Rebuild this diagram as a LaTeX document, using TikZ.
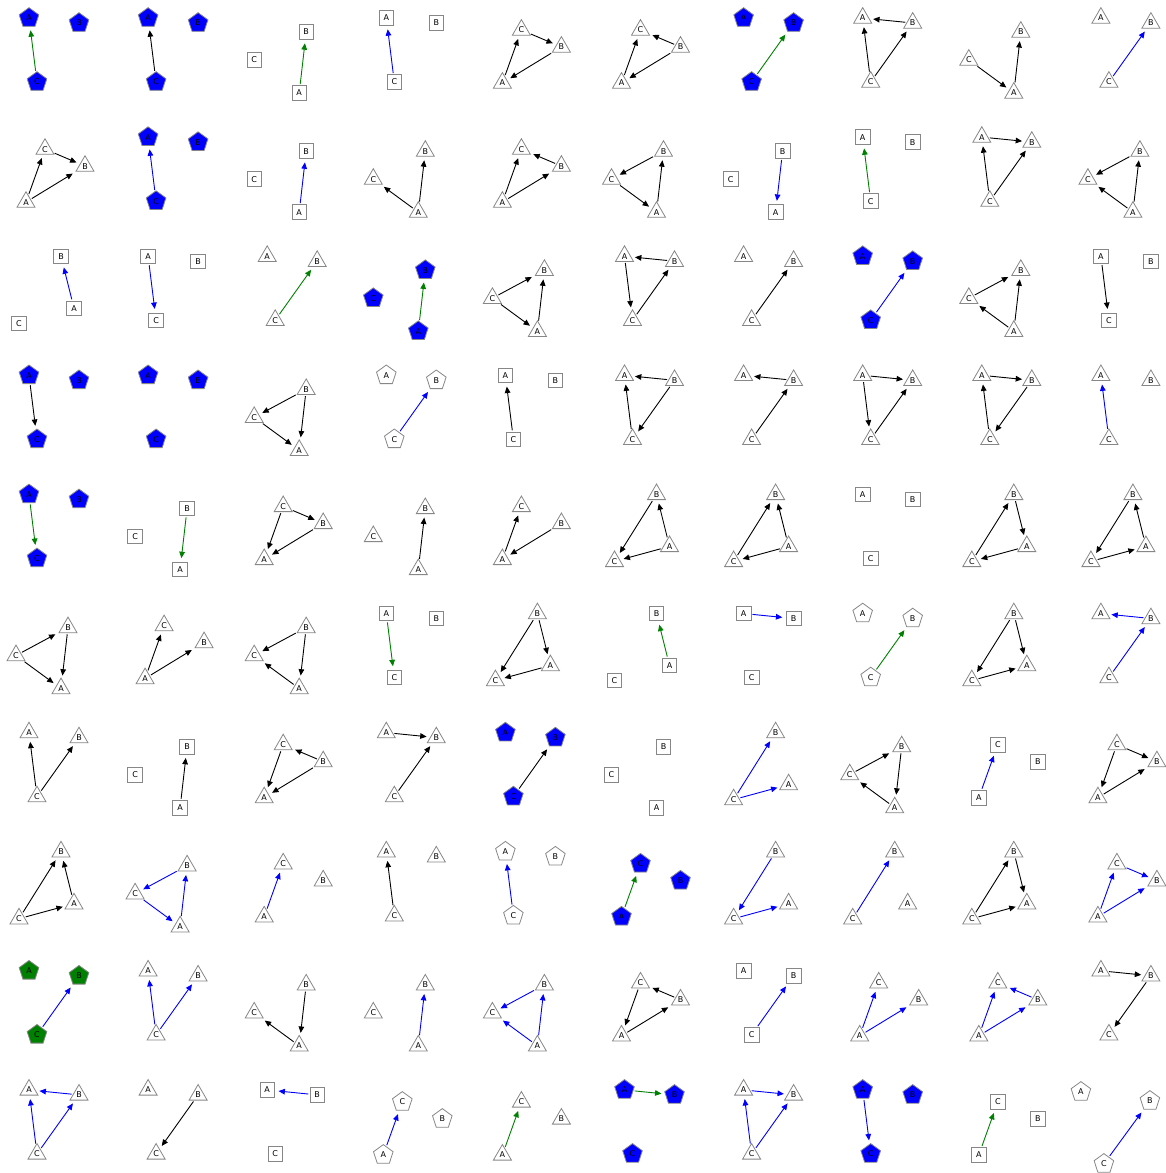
\documentclass[tikz,border=0pt]{standalone}
\usepackage{fontspec}
\setmainfont{DejaVu Sans}
\usepackage{xcolor}
\usetikzlibrary{arrows.meta, shapes.geometric}

\definecolor{edgegreen}{RGB}{0,128,0}
\definecolor{edgeblue}{RGB}{0,0,255}
\definecolor{nodegray}{RGB}{135,135,135}

\tikzset{
  lbl/.style={font=\fontsize{4}{4}\selectfont, inner sep=0pt, line width=0.4pt, draw=nodegray},
  tri/.style={lbl, regular polygon, regular polygon sides=3, fill=white, minimum size=10.4pt},
  box/.style={lbl, rectangle, fill=white, minimum size=7.3pt},
  pent/.style={lbl, regular polygon, regular polygon sides=5, fill=white, minimum size=10.3pt},
  pentblue/.style={pent, fill=edgeblue},
  pentgreen/.style={pent, fill=edgegreen},
  edge/.style={line width=0.45pt, -{Triangle[length=3.2pt,width=2.8pt]}, shorten >=1.8pt, shorten <=0.6pt},
}

% slot positions inside one panel, pixels from the panel corner
\newcommand{\layrow}{%
  \coordinate (s1) at (29,18);
  \coordinate (s2) at (79,23);
  \coordinate (s3) at (37,82);}
\newcommand{\layleft}{%
  \coordinate (s1) at (68,32);
  \coordinate (s2) at (16,60);
  \coordinate (s3) at (61,93);}
\newcommand{\laytilt}{%
  \coordinate (s1) at (45,30);
  \coordinate (s2) at (85,47);
  \coordinate (s3) at (26,83);}
\newcommand{\laypeak}{%
  \coordinate (s1) at (61,18);
  \coordinate (s2) at (74,70);
  \coordinate (s3) at (19,85);}
\newcommand{\laylast}{%
  \coordinate (s1) at (9,20);
  \coordinate (s2) at (78,29);
  \coordinate (s3) at (32,92);}

% one panel: column, row, node style, layout, labels at s1/s2/s3, edges
\newcommand{\panel}[8]{%
  \begin{scope}[shift={(#1*119.1,#2*119.1)}]
    \csname lay#4\endcsname
    \node[#3] (#5#1#2) at (s1) {#5};
    \node[#3] (#6#1#2) at (s2) {#6};
    \node[#3] (#7#1#2) at (s3) {#7};
    \if\relax\detokenize{#8}\relax\else
      \foreach \src/\dst/\ecol in {#8} {
        \draw[edge, color=\ecol] (\src#1#2) -- (\dst#1#2);
      }
    \fi
  \end{scope}}

\begin{document}
\begin{tikzpicture}[x=0.5pt, y=-0.5pt]
  \useasboundingbox (0,0) rectangle (1166,1173);
  % row 0
  \panel{0}{0}{pentblue}{row}{A}{B}{C}{C/A/edgegreen}
  \panel{1}{0}{pentblue}{row}{A}{B}{C}{C/A/black}
  \panel{2}{0}{box}{left}{B}{C}{A}{A/B/edgegreen}
  \panel{3}{0}{box}{row}{A}{B}{C}{C/A/edgeblue}
  \panel{4}{0}{tri}{tilt}{C}{B}{A}{A/C/black, C/B/black, B/A/black}
  \panel{5}{0}{tri}{tilt}{C}{B}{A}{A/C/black, B/C/black, B/A/black}
  \panel{6}{0}{pentblue}{row}{A}{B}{C}{C/B/edgegreen}
  \panel{7}{0}{tri}{row}{A}{B}{C}{B/A/black, C/A/black, C/B/black}
  \panel{8}{0}{tri}{left}{B}{C}{A}{C/A/black, A/B/black}
  \panel{9}{0}{tri}{row}{A}{B}{C}{C/B/edgeblue}
  % row 1
  \panel{0}{1}{tri}{tilt}{C}{B}{A}{A/C/black, C/B/black, A/B/black}
  \panel{1}{1}{pentblue}{row}{A}{B}{C}{C/A/edgeblue}
  \panel{2}{1}{box}{left}{B}{C}{A}{A/B/edgeblue}
  \panel{3}{1}{tri}{left}{B}{C}{A}{A/C/black, A/B/black}
  \panel{4}{1}{tri}{tilt}{C}{B}{A}{A/C/black, B/C/black, A/B/black}
  \panel{5}{1}{tri}{left}{B}{C}{A}{B/C/black, C/A/black, A/B/black}
  \panel{6}{1}{box}{left}{B}{C}{A}{B/A/edgeblue}
  \panel{7}{1}{box}{row}{A}{B}{C}{C/A/edgegreen}
  \panel{8}{1}{tri}{row}{A}{B}{C}{A/B/black, C/A/black, C/B/black}
  \panel{9}{1}{tri}{left}{B}{C}{A}{B/C/black, A/C/black, A/B/black}
  % row 2
  \panel{0}{2}{box}{peak}{B}{A}{C}{A/B/edgeblue}
  \panel{1}{2}{box}{row}{A}{B}{C}{A/C/edgeblue}
  \panel{2}{2}{tri}{row}{A}{B}{C}{C/B/edgegreen}
  \panel{3}{2}{pentblue}{left}{B}{C}{A}{A/B/edgegreen}
  \panel{4}{2}{tri}{left}{B}{C}{A}{C/B/black, C/A/black, A/B/black}
  \panel{5}{2}{tri}{row}{A}{B}{C}{B/A/black, A/C/black, C/B/black}
  \panel{6}{2}{tri}{row}{A}{B}{C}{C/B/black}
  \panel{7}{2}{pentblue}{row}{A}{B}{C}{C/B/edgeblue}
  \panel{8}{2}{tri}{left}{B}{C}{A}{C/B/black, A/C/black, A/B/black}
  \panel{9}{2}{box}{row}{A}{B}{C}{A/C/black}
  % row 3
  \panel{0}{3}{pentblue}{row}{A}{B}{C}{A/C/black}
  \panel{1}{3}{pentblue}{row}{A}{B}{C}{}
  \panel{2}{3}{tri}{left}{B}{C}{A}{B/C/black, C/A/black, B/A/black}
  \panel{3}{3}{pent}{row}{A}{B}{C}{C/B/edgeblue}
  \panel{4}{3}{box}{row}{A}{B}{C}{C/A/black}
  \panel{5}{3}{tri}{row}{A}{B}{C}{B/A/black, C/A/black, B/C/black}
  \panel{6}{3}{tri}{row}{A}{B}{C}{B/A/black, C/B/black}
  \panel{7}{3}{tri}{row}{A}{B}{C}{A/B/black, A/C/black, C/B/black}
  \panel{8}{3}{tri}{row}{A}{B}{C}{A/B/black, C/A/black, B/C/black}
  \panel{9}{3}{tri}{row}{A}{B}{C}{C/A/edgeblue}
  % row 4
  \panel{0}{4}{pentblue}{row}{A}{B}{C}{A/C/edgegreen}
  \panel{1}{4}{box}{left}{B}{C}{A}{B/A/edgegreen}
  \panel{2}{4}{tri}{tilt}{C}{B}{A}{C/A/black, C/B/black, B/A/black}
  \panel{3}{4}{tri}{left}{B}{C}{A}{A/B/black}
  \panel{4}{4}{tri}{tilt}{C}{B}{A}{A/C/black, B/A/black}
  \panel{5}{4}{tri}{peak}{B}{A}{C}{B/C/black, A/B/black, A/C/black}
  \panel{6}{4}{tri}{peak}{B}{A}{C}{C/B/black, A/B/black, A/C/black}
  \panel{7}{4}{box}{row}{A}{B}{C}{}
  \panel{8}{4}{tri}{peak}{B}{A}{C}{C/B/black, B/A/black, A/C/black}
  \panel{9}{4}{tri}{peak}{B}{A}{C}{B/C/black, A/B/black, C/A/black}
  % row 5
  \panel{0}{5}{tri}{left}{B}{C}{A}{C/B/black, C/A/black, B/A/black}
  \panel{1}{5}{tri}{tilt}{C}{B}{A}{A/C/black, A/B/black}
  \panel{2}{5}{tri}{left}{B}{C}{A}{B/C/black, B/A/black, A/C/black}
  \panel{3}{5}{box}{row}{A}{B}{C}{A/C/edgegreen}
  \panel{4}{5}{tri}{peak}{B}{A}{C}{B/C/black, B/A/black, A/C/black}
  \panel{5}{5}{box}{peak}{B}{A}{C}{A/B/edgegreen}
  \panel{6}{5}{box}{row}{A}{B}{C}{A/B/edgeblue}
  \panel{7}{5}{pent}{row}{A}{B}{C}{C/B/edgegreen}
  \panel{8}{5}{tri}{peak}{B}{A}{C}{B/C/black, B/A/black, C/A/black}
  \panel{9}{5}{tri}{row}{A}{B}{C}{B/A/edgeblue, C/B/edgeblue}
  % row 6
  \panel{0}{6}{tri}{row}{A}{B}{C}{C/A/black, C/B/black}
  \panel{1}{6}{box}{left}{B}{C}{A}{A/B/black}
  \panel{2}{6}{tri}{tilt}{C}{B}{A}{B/C/black, C/A/black, B/A/black}
  \panel{3}{6}{tri}{row}{A}{B}{C}{A/B/black, C/B/black}
  \panel{4}{6}{pentblue}{row}{A}{B}{C}{C/B/black}
  \panel{5}{6}{box}{left}{B}{C}{A}{}
  \panel{6}{6}{tri}{peak}{B}{A}{C}{C/B/edgeblue, C/A/edgeblue}
  \panel{7}{6}{tri}{left}{B}{C}{A}{C/B/black, B/A/black, A/C/black}
  \panel{8}{6}{box}{tilt}{C}{B}{A}{A/C/edgeblue}
  \panel{9}{6}{tri}{tilt}{C}{B}{A}{C/B/black, C/A/black, A/B/black}
  % row 7
  \panel{0}{7}{tri}{peak}{B}{A}{C}{C/B/black, A/B/black, C/A/black}
  \panel{1}{7}{tri}{left}{B}{C}{A}{B/C/edgeblue, C/A/edgeblue, A/B/edgeblue}
  \panel{2}{7}{tri}{tilt}{C}{B}{A}{A/C/edgeblue}
  \panel{3}{7}{tri}{row}{A}{B}{C}{C/A/black}
  \panel{4}{7}{pent}{row}{A}{B}{C}{C/A/edgeblue}
  \panel{5}{7}{pentblue}{tilt}{C}{B}{A}{A/C/edgegreen}
  \panel{6}{7}{tri}{peak}{B}{A}{C}{B/C/edgeblue, C/A/edgeblue}
  \panel{7}{7}{tri}{peak}{B}{A}{C}{C/B/edgeblue}
  \panel{8}{7}{tri}{peak}{B}{A}{C}{C/B/black, B/A/black, C/A/black}
  \panel{9}{7}{tri}{tilt}{C}{B}{A}{A/C/edgeblue, C/B/edgeblue, A/B/edgeblue}
  % row 8
  \panel{0}{8}{pentgreen}{row}{A}{B}{C}{C/B/edgeblue}
  \panel{1}{8}{tri}{row}{A}{B}{C}{C/A/edgeblue, C/B/edgeblue}
  \panel{2}{8}{tri}{left}{B}{C}{A}{B/A/black, A/C/black}
  \panel{3}{8}{tri}{left}{B}{C}{A}{A/B/edgeblue}
  \panel{4}{8}{tri}{left}{B}{C}{A}{B/C/edgeblue, A/C/edgeblue, A/B/edgeblue}
  \panel{5}{8}{tri}{tilt}{C}{B}{A}{B/C/black, C/A/black, A/B/black}
  \panel{6}{8}{box}{row}{A}{B}{C}{C/B/edgeblue}
  \panel{7}{8}{tri}{tilt}{C}{B}{A}{A/C/edgeblue, A/B/edgeblue}
  \panel{8}{8}{tri}{tilt}{C}{B}{A}{B/C/edgeblue, A/C/edgeblue, A/B/edgeblue}
  \panel{9}{8}{tri}{row}{A}{B}{C}{A/B/black, B/C/black}
  % row 9
  \panel{0}{9}{tri}{row}{A}{B}{C}{B/A/edgeblue, C/A/edgeblue, C/B/edgeblue}
  \panel{1}{9}{tri}{row}{A}{B}{C}{B/C/black}
  \panel{2}{9}{box}{row}{A}{B}{C}{B/A/edgeblue}
  \panel{3}{9}{pent}{tilt}{C}{B}{A}{A/C/edgeblue}
  \panel{4}{9}{tri}{tilt}{C}{B}{A}{A/C/edgegreen}
  \panel{5}{9}{pentblue}{row}{A}{B}{C}{A/B/edgegreen}
  \panel{6}{9}{tri}{row}{A}{B}{C}{A/B/edgeblue, C/A/edgeblue, C/B/edgeblue}
  \panel{7}{9}{pentblue}{row}{A}{B}{C}{A/C/edgeblue}
  \panel{8}{9}{box}{tilt}{C}{B}{A}{A/C/edgegreen}
  \panel{9}{9}{pent}{last}{A}{B}{C}{C/B/edgeblue}
\end{tikzpicture}
\end{document}
